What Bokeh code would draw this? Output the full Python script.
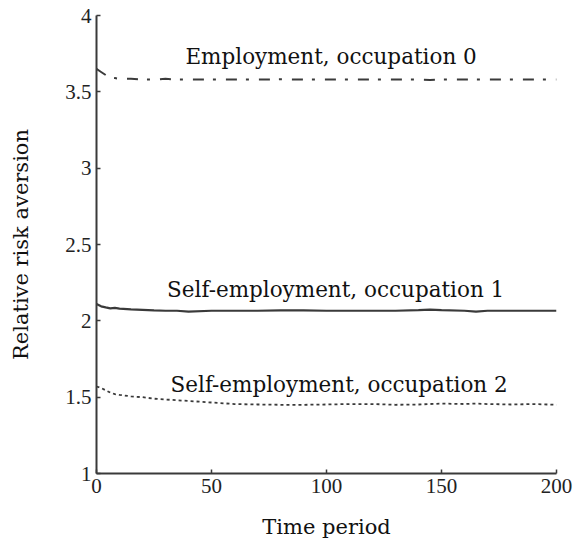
from bokeh.plotting import figure
from bokeh.models import FixedTicker, Label
from bokeh.embed import file_html
from bokeh.resources import INLINE

# ---- data ----
periods = [0, 2, 4, 6, 8, 10, 15, 20, 25, 30, 35, 40, 50, 60, 70, 80, 90, 100,
           110, 120, 130, 140, 145, 150, 160, 165, 170, 180, 190, 200]
employment_occ0 = [3.65, 3.63, 3.61, 3.595, 3.59, 3.585, 3.585, 3.58, 3.58, 3.585, 3.58, 3.58,
                   3.58, 3.58, 3.58, 3.582, 3.58, 3.58, 3.58, 3.58, 3.58, 3.58, 3.578, 3.58,
                   3.58, 3.58, 3.58, 3.58, 3.58, 3.58]
selfemp_occ1 = [2.11, 2.095, 2.088, 2.082, 2.085, 2.08, 2.075, 2.072, 2.068, 2.066, 2.066, 2.06,
                2.066, 2.066, 2.066, 2.068, 2.068, 2.066, 2.066, 2.066, 2.066, 2.07, 2.074, 2.07,
                2.066, 2.06, 2.066, 2.066, 2.066, 2.066]
selfemp_occ2 = [1.57, 1.56, 1.545, 1.53, 1.52, 1.515, 1.505, 1.50, 1.49, 1.485, 1.48, 1.475,
                1.465, 1.455, 1.452, 1.45, 1.45, 1.452, 1.455, 1.455, 1.45, 1.452, 1.455, 1.458,
                1.455, 1.458, 1.455, 1.452, 1.455, 1.45]
series_names = ["Employment, occupation 0",
                "Self-employment, occupation 1",
                "Self-employment, occupation 2"]
x_ticks = [0, 50, 100, 150, 200]
y_ticks = [1, 1.5, 2, 2.5, 3, 3.5, 4]
y_tick_labels = ["1", "1.5", "2", "2.5", "3", "3.5", "4"]
x_title = "Time period"
y_title = "Relative risk aversion"

FONT = "DejaVu Serif"
TICK_FONT = "Liberation Serif"
INK = "#3a3a3a"

p = figure(width=574, height=554, x_range=(0, 200), y_range=(1, 4),
           output_backend="svg", toolbar_location=None,
           min_border_left=96, min_border_right=18, min_border_top=15,
           min_border_bottom=81)
p.outline_line_color = None
p.grid.visible = False
p.background_fill_color = "white"
p.border_fill_color = "white"

p.line(periods, employment_occ0, line_color=INK, line_width=2, line_dash="11 9 3 10")
p.line(periods, selfemp_occ1, line_color=INK, line_width=2.2)
p.line(periods, selfemp_occ2, line_color=INK, line_width=1.8, line_dash="3 3")

for txt, xx, yy in zip(series_names, [102, 104, 105.5], [3.731, 2.205, 1.585]):
    p.add_layout(Label(x=xx, y=yy, text=txt, text_align="center", text_baseline="alphabetic",
                       text_font=FONT, text_font_size="21.5px", text_color="#111111"))

for ax in (p.xaxis[0], p.yaxis[0]):
    ax.axis_line_color = INK
    ax.axis_line_width = 2
    ax.major_tick_line_color = INK
    ax.major_tick_line_width = 1.5
    ax.major_tick_in = 4
    ax.major_tick_out = 0
    ax.minor_tick_line_color = None
    ax.major_label_text_font = TICK_FONT
    ax.major_label_text_font_size = "21px"
    ax.major_label_text_color = "#222222"
    ax.axis_label_text_font = FONT
    ax.axis_label_text_font_size = "21px"
    ax.axis_label_text_font_style = "normal"
    ax.axis_label_text_color = "#111111"
    ax.major_label_standoff = 5

p.xaxis[0].ticker = FixedTicker(ticks=x_ticks)
p.yaxis[0].ticker = FixedTicker(ticks=y_ticks)
p.yaxis[0].major_label_overrides = {t: s for t, s in zip(y_ticks, y_tick_labels)}
p.xaxis[0].axis_label = x_title
p.yaxis[0].axis_label = y_title
p.xaxis[0].axis_label_standoff = 19
p.yaxis[0].axis_label_standoff = 29

open("out.html", "w").write(file_html(p, INLINE))
